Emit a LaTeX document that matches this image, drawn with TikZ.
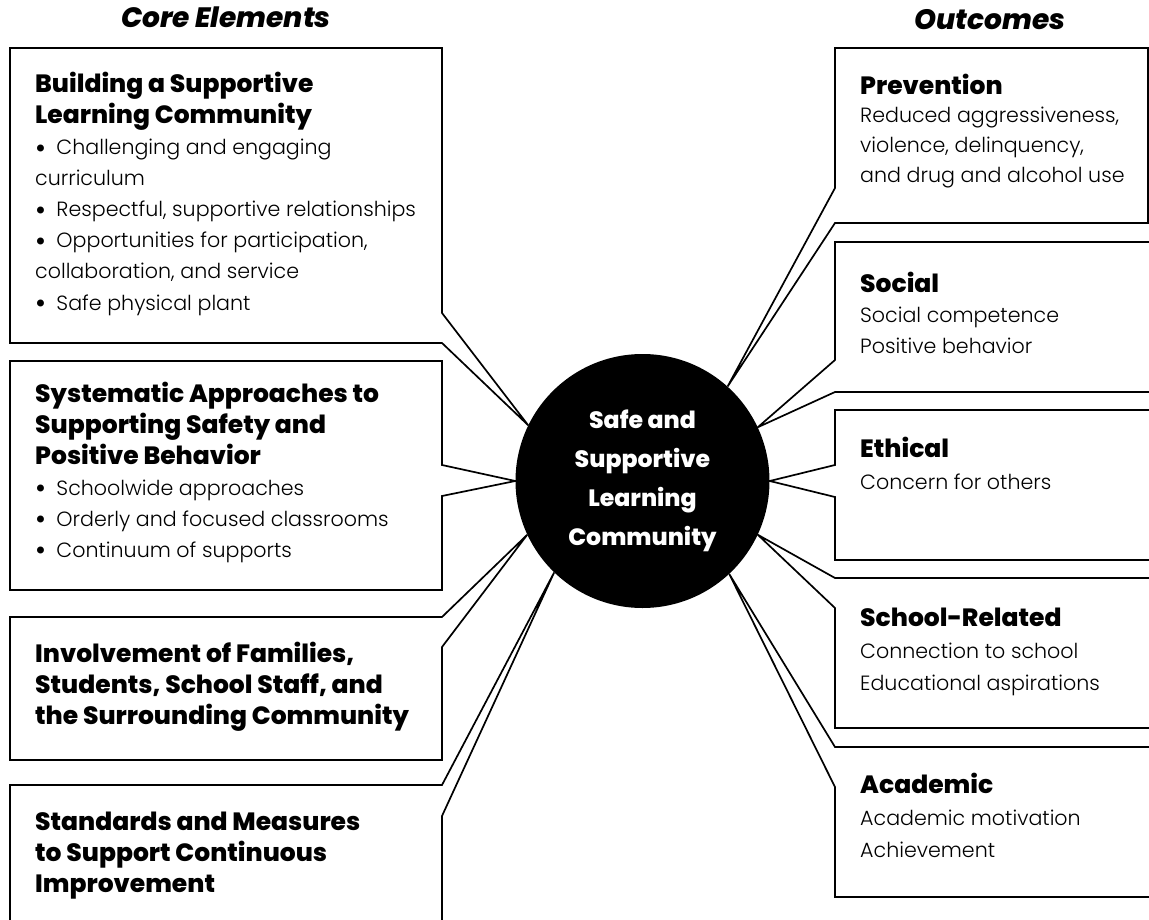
\documentclass[tikz,border=0pt]{standalone}
\usepackage{fontspec}
\setmainfont{Poppins}
\IfFontExistsTF{Poppins Light}{\newfontfamily\bodyfam{Poppins Light}}{\newfontfamily\bodyfam{Poppins}}
\IfFontExistsTF{Poppins ExtraBold}{\newfontfamily\headfam{Poppins ExtraBold}}{\newfontfamily\headfam{Poppins}[UprightFont=*-Bold]}
\IfFontExistsTF{Poppins ExtraBold Italic}{\newfontfamily\titlefam{Poppins ExtraBold Italic}}{\newfontfamily\titlefam{Poppins}[UprightFont=*-BoldItalic]}
\newcommand\mybody{\fontsize{20.6}{31}\selectfont\bodyfam}
\newcommand\myhead{\fontsize{25}{31}\selectfont\headfam}
\newcommand\mytitle{\fontsize{28}{30}\selectfont\titlefam}
\newcommand\myhub{\fontsize{23.6}{39}\selectfont\headfam}
\newcommand\bul{{\fontsize{30}{30}\selectfont\raisebox{-3.5pt}{•}}\hspace{0.5em}}
\tikzset{
  outline/.style={draw=black, line width=1.7pt, line join=miter},
  body/.style={anchor=base west, inner sep=0pt, font=\mybody},
  head/.style={anchor=base west, inner sep=0pt, font=\myhead},
  coltitle/.style={anchor=base, inner sep=0pt, font=\mytitle},
  hub/.style={circle, fill=black, minimum size=254pt, inner sep=0pt, text=white, align=center, font=\myhub}
}
\begin{document}
\begin{tikzpicture}[x=1pt,y=-1pt]
\useasboundingbox (0,0) rectangle (1149,920);
\clip (0,0) rectangle (1149,920);

% hub
\node[hub] (c) at (642.5,481) {Safe and\\Supportive\\Learning\\Community};

% titles
\node[coltitle] (t1) at (226,28) {Core Elements};
\node[coltitle] (t2) at (990,30) {Outcomes};

% left outlines
\draw[outline] (10,48) -- (442,48) -- (442,313) -- (c.154.75) -- (442,343) -- (10,343) -- cycle;
\draw[outline] (10,361) -- (442,361) -- (442,465) -- (c.180) -- (442,496) -- (442,590) -- (10,590) -- cycle;
\draw[outline] (10,617) -- (442,617) -- (c.205.25) -- (442,647) -- (442,760) -- (10,760) -- cycle;
\draw[outline] (10,785) -- (442,785) -- (c.226) -- (442,816) -- (442,960) -- (10,960) -- cycle;

% right outlines
\draw[outline] (1148,48) -- (835,48) -- (835,188) -- (c.48.6) -- (835,223) -- (1148,223) -- cycle;
\draw[outline] (1170,242) -- (835,242) -- (835,360) -- (c.25.25) -- (835,392) -- (1170,392);
\draw[outline] (1170,410) -- (835,410) -- (835,465) -- (c.0) -- (835,497) -- (835,560) -- (1170,560);
\draw[outline] (1170,578) -- (835,578) -- (c.-25.25) -- (835,608) -- (835,728) -- (1170,728);
\draw[outline] (1170,747) -- (835,747) -- (c.-47.4) -- (835,787) -- (835,897) -- (1170,897);

% box 1 text
\node[head] (a1) at (35,93) {Building a Supportive};
\node[head] (a2) at (35,124) {Learning Community};
\node[body] (a3) at (35,155) {\bul Challenging and engaging};
\node[body] (a4) at (35,186) {curriculum};
\node[body] (a5) at (35,217) {\bul Respectful, supportive relationships};
\node[body] (a6) at (35,248) {\bul Opportunities for participation,};
\node[body] (a7) at (35,279) {collaboration, and service};
\node[body] (a8) at (35,310) {\bul Safe physical plant};

% box 2 text
\node[head] (b1) at (35,402) {Systematic Approaches to};
\node[head] (b2) at (35,433) {Supporting Safety and};
\node[head] (b3) at (35,464) {Positive Behavior};
\node[body] (b4) at (35,495) {\bul Schoolwide approaches};
\node[body] (b5) at (35,526) {\bul Orderly and focused classrooms};
\node[body] (b6) at (35,557) {\bul Continuum of supports};

% box 3 text
\node[head] (d1) at (35,662) {Involvement of Families,};
\node[head] (d2) at (35,693) {Students, School Staff, and};
\node[head] (d3) at (35,724) {the Surrounding Community};

% box 4 text
\node[head] (e1) at (35,830) {Standards and Measures};
\node[head] (e2) at (35,861) {to Support Continuous};
\node[head] (e3) at (35,892) {Improvement};

% right texts
\node[head] (p1) at (860,95) {Prevention};
\node[body] (p2) at (860,123) {Reduced aggressiveness,};
\node[body] (p3) at (860,153) {violence, delinquency,};
\node[body] (p4) at (860,183) {and drug and alcohol use};

\node[head] (s1) at (860,293) {Social};
\node[body] (s2) at (860,323) {Social competence};
\node[body] (s3) at (860,353) {Positive behavior};

\node[head] (h1) at (860,457) {Ethical};
\node[body] (h2) at (860,489) {Concern for others};

\node[head] (r1) at (860,626) {School-Related};
\node[body] (r2) at (860,658) {Connection to school};
\node[body] (r3) at (860,690) {Educational aspirations};

\node[head] (m1) at (860,793) {Academic};
\node[body] (m2) at (860,825) {Academic motivation};
\node[body] (m3) at (860,857) {Achievement};
\end{tikzpicture}
\end{document}
